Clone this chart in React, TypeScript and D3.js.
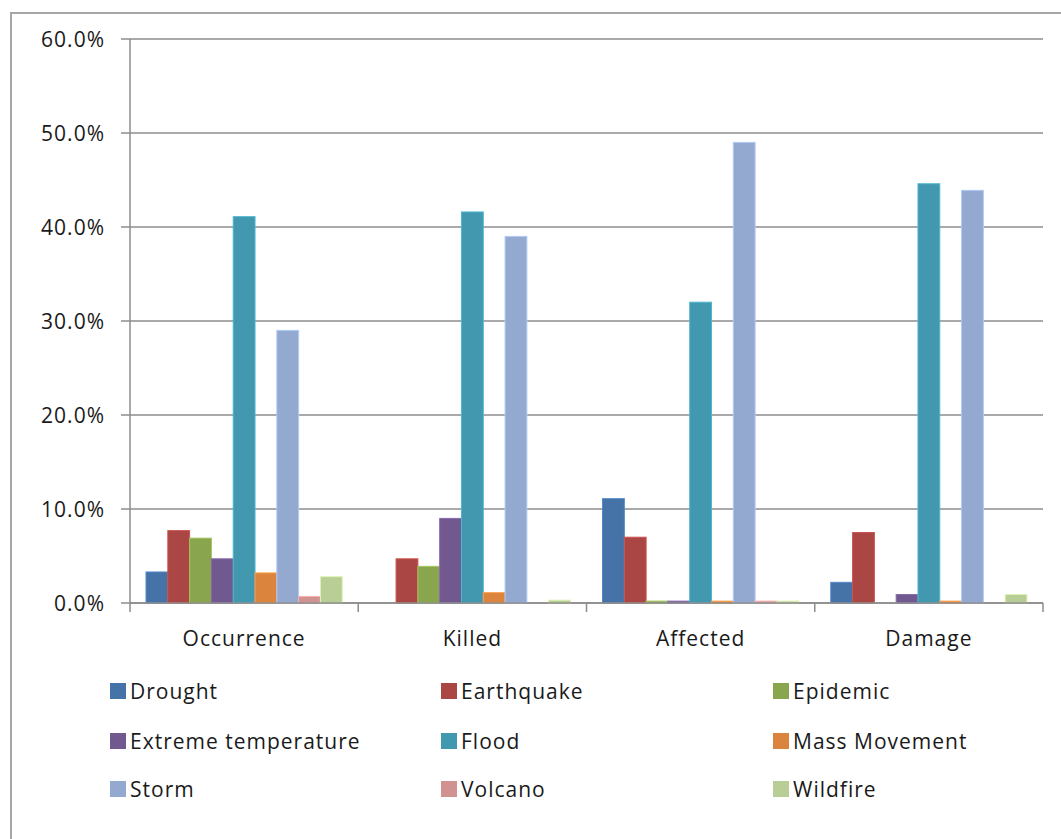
import React, { useEffect, useRef } from "react";
import * as d3 from "d3";

// Share of disaster impact by hazard type (percent)
const categories = ["Occurrence", "Killed", "Affected", "Damage"];
const seriesNames = [
  "Drought",
  "Earthquake",
  "Epidemic",
  "Extreme temperature",
  "Flood",
  "Mass Movement",
  "Storm",
  "Volcano",
  "Wildfire",
];
const drought = [3.3, 0.0, 11.1, 2.2];
const earthquake = [7.7, 4.7, 7.0, 7.5];
const epidemic = [6.9, 3.9, 0.2, 0.0];
const extremeTemperature = [4.7, 9.0, 0.2, 0.9];
const flood = [41.1, 41.6, 32.0, 44.6];
const massMovement = [3.2, 1.1, 0.2, 0.2];
const storm = [29.0, 39.0, 49.0, 43.9];
const volcano = [0.7, 0.0, 0.2, 0.0];
const wildfire = [2.8, 0.3, 0.2, 0.9];
const seriesValues = [
  drought,
  earthquake,
  epidemic,
  extremeTemperature,
  flood,
  massMovement,
  storm,
  volcano,
  wildfire,
];
const colors = [
  "#4572A7",
  "#AA4643",
  "#89A54E",
  "#71588F",
  "#4198AF",
  "#DB843D",
  "#93A9CF",
  "#D19392",
  "#B9CD96",
];
const yTicks = [0, 10, 20, 30, 40, 50, 60];

const W = 1061;
const H = 839;
const FONT = "'Open Sans', sans-serif";
const FONT_SIZE = 21;
const SPACING = 1;

export default function App() {
  const ref = useRef<SVGSVGElement>(null);

  useEffect(() => {
    const svg = d3.select(ref.current);
    svg.selectAll("*").remove();

    const left = 130;
    const right = 1043;
    const top = 39;
    const bottom = 603;

    // outer chart frame
    svg
      .append("rect")
      .attr("x", 11)
      .attr("y", 13)
      .attr("width", 1200)
      .attr("height", 1000)
      .attr("fill", "#fff")
      .attr("stroke", "#a6a6a6")
      .attr("stroke-width", 2);

    const y = d3.scaleLinear().domain([0, 60]).range([bottom, top]);
    const x0 = d3
      .scaleBand<string>()
      .domain(categories)
      .range([left, right])
      .paddingInner(0)
      .paddingOuter(0);
    const x1 = d3
      .scaleBand<string>()
      .domain(seriesNames)
      .range([0, x0.bandwidth()])
      .paddingInner(0)
      .paddingOuter(0.735);

    const grid = svg.append("g");
    yTicks.forEach((t) => {
      grid
        .append("line")
        .attr("x1", left - 9)
        .attr("x2", right)
        .attr("y1", y(t))
        .attr("y2", y(t))
        .attr("stroke", "#8c8c8c")
        .attr("stroke-width", 1.5);
      grid
        .append("text")
        .attr("x", 105)
        .attr("y", y(t))
        .attr("dy", "0.36em")
        .attr("text-anchor", "end")
        .attr("font-family", FONT)
        .attr("font-size", FONT_SIZE)
        .attr("letter-spacing", SPACING)
        .attr("fill", "#1a1a1a")
        .text(d3.format(".1f")(t) + "%");
    });

    // bars
    const groups = svg
      .append("g")
      .selectAll("g")
      .data(categories)
      .join("g")
      .attr("transform", (c) => `translate(${x0(c)},0)`);

    groups
      .selectAll("rect")
      .data((c, ci) =>
        seriesNames.map((s, si) => ({ s, si, v: seriesValues[si][ci] }))
      )
      .join("rect")
      .filter((d) => d.v > 0)
      .attr("x", (d) => x1(d.s)!)
      .attr("y", (d) => y(d.v))
      .attr("width", x1.bandwidth())
      .attr("height", (d) => bottom - y(d.v))
      .attr("fill", (d) => colors[d.si])
      .attr("stroke", (d) => d3.color(colors[d.si])!.brighter(0.5).formatHex())
      .attr("stroke-width", 1);

    // axes
    svg
      .append("line")
      .attr("x1", left)
      .attr("x2", left)
      .attr("y1", top)
      .attr("y2", bottom + 9)
      .attr("stroke", "#8c8c8c")
      .attr("stroke-width", 1.5);
    svg
      .append("line")
      .attr("x1", left)
      .attr("x2", right)
      .attr("y1", bottom)
      .attr("y2", bottom)
      .attr("stroke", "#8c8c8c")
      .attr("stroke-width", 1.5);
    categories.forEach((c) => {
      const xe = x0(c)! + x0.bandwidth();
      svg
        .append("line")
        .attr("x1", xe)
        .attr("x2", xe)
        .attr("y1", bottom)
        .attr("y2", bottom + 9)
        .attr("stroke", "#8c8c8c")
        .attr("stroke-width", 1.5);
      svg
        .append("text")
        .attr("x", x0(c)! + x0.bandwidth() / 2)
        .attr("y", 646)
        .attr("text-anchor", "middle")
        .attr("font-family", FONT)
        .attr("font-size", FONT_SIZE)
        .attr("letter-spacing", SPACING)
        .attr("fill", "#1a1a1a")
        .text(c);
    });

    // legend, three columns
    const colX = [110, 441, 773];
    const rowY = [691, 741, 789];
    seriesNames.forEach((s, i) => {
      const cx = colX[i % 3];
      const cy = rowY[Math.floor(i / 3)];
      svg
        .append("rect")
        .attr("x", cx)
        .attr("y", cy - 8)
        .attr("width", 16)
        .attr("height", 16)
        .attr("fill", colors[i]);
      svg
        .append("text")
        .attr("x", cx + 20)
        .attr("y", cy)
        .attr("dy", "0.36em")
        .attr("font-family", FONT)
        .attr("font-size", FONT_SIZE)
        .attr("letter-spacing", SPACING)
        .attr("fill", "#1a1a1a")
        .text(s);
    });
  }, []);

  return (
    <svg
      ref={ref}
      width={W}
      height={H}
      style={{ position: "absolute", left: 0, top: 0, background: "#fff" }}
    />
  );
}
